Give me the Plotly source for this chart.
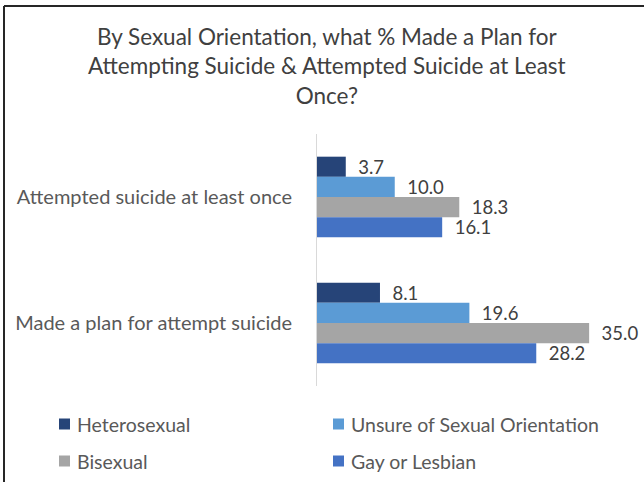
import plotly.graph_objects as go

categories = ["Attempted suicide at least once", "Made a plan for attempt suicide"]
series_names = ["Heterosexual", "Unsure of Sexual Orientation", "Bisexual", "Gay or Lesbian"]
heterosexual = [3.7, 8.1]
unsure = [10.0, 19.6]
bisexual = [18.3, 35.0]
gay_lesbian = [16.1, 28.2]
colors = ["#264478", "#5B9BD5", "#A5A5A5", "#4472C4"]

FONT = "Lato"
W, H = 644, 482
ML, MR, MT, MB = 317, 16, 134, 96
PW = W - ML - MR
PH = H - MT - MB


def px_x(p):
    return (p - ML) / PW


def px_y(p):
    return (H - MB - p) / PH


fig = go.Figure()
for name, vals, col in zip(series_names, [heterosexual, unsure, bisexual, gay_lesbian], colors):
    fig.add_trace(go.Bar(
        y=categories, x=vals, name=name, orientation="h",
        marker=dict(color=col, line=dict(width=0)),
        text=[f"\u00a0\u00a0{v:.1f}" for v in vals], textposition="outside",
        constraintext="none",
        textfont=dict(family=FONT, size=18.5, color="#404040"),
        cliponaxis=False, showlegend=False,
    ))

# manual legend (2 x 2 grid)
legend_pos = [(59, 424), (333, 424), (59, 461), (333, 461)]
shapes = []
annotations = []
for name, col, (lx, ly) in zip(series_names, colors, legend_pos):
    shapes.append(dict(type="rect", xref="paper", yref="paper",
                       x0=px_x(lx), x1=px_x(lx + 11), y0=px_y(ly - 5.5), y1=px_y(ly + 5.5),
                       fillcolor=col, line=dict(width=0)))
    annotations.append(dict(text=name, xref="paper", yref="paper",
                            x=px_x(lx + 16), y=px_y(ly), xanchor="left", yanchor="middle",
                            showarrow=False,
                            font=dict(family=FONT, size=19.5, color="#595959")))

# title
annotations.append(dict(
    text="By Sexual Orientation, what % Made a Plan for<br>Attempting Suicide &amp; Attempted Suicide at Least<br>Once?",
    xref="paper", yref="paper", x=px_x(327), y=px_y(21), xanchor="center", yanchor="top",
    showarrow=False, align="center",
    font=dict(family=FONT, size=22.5, color="#404040"),
))

shapes += [
    dict(type="line", xref="paper", yref="paper", x0=px_x(4), x1=px_x(644), y0=px_y(6), y1=px_y(6),
         line=dict(color="#262626", width=2)),
    dict(type="line", xref="paper", yref="paper", x0=px_x(4), x1=px_x(4), y0=px_y(6), y1=px_y(482),
         line=dict(color="#262626", width=2)),
]

fig.update_layout(
    width=W, height=H,
    margin=dict(l=ML, r=MR, t=MT, b=MB),
    paper_bgcolor="white", plot_bgcolor="white",
    barmode="group", bargap=0.36, bargroupgap=0,
    font=dict(family=FONT, color="#595959"),
    showlegend=False,
    xaxis=dict(range=[0, 40], visible=False),
    yaxis=dict(autorange="reversed", showline=True, linecolor="#D9D9D9", linewidth=1,
               ticks="", ticklabelstandoff=20,
               tickfont=dict(family=FONT, size=20, color="#595959")),
    shapes=shapes,
    annotations=annotations,
)

fig.write_html("out.html")
